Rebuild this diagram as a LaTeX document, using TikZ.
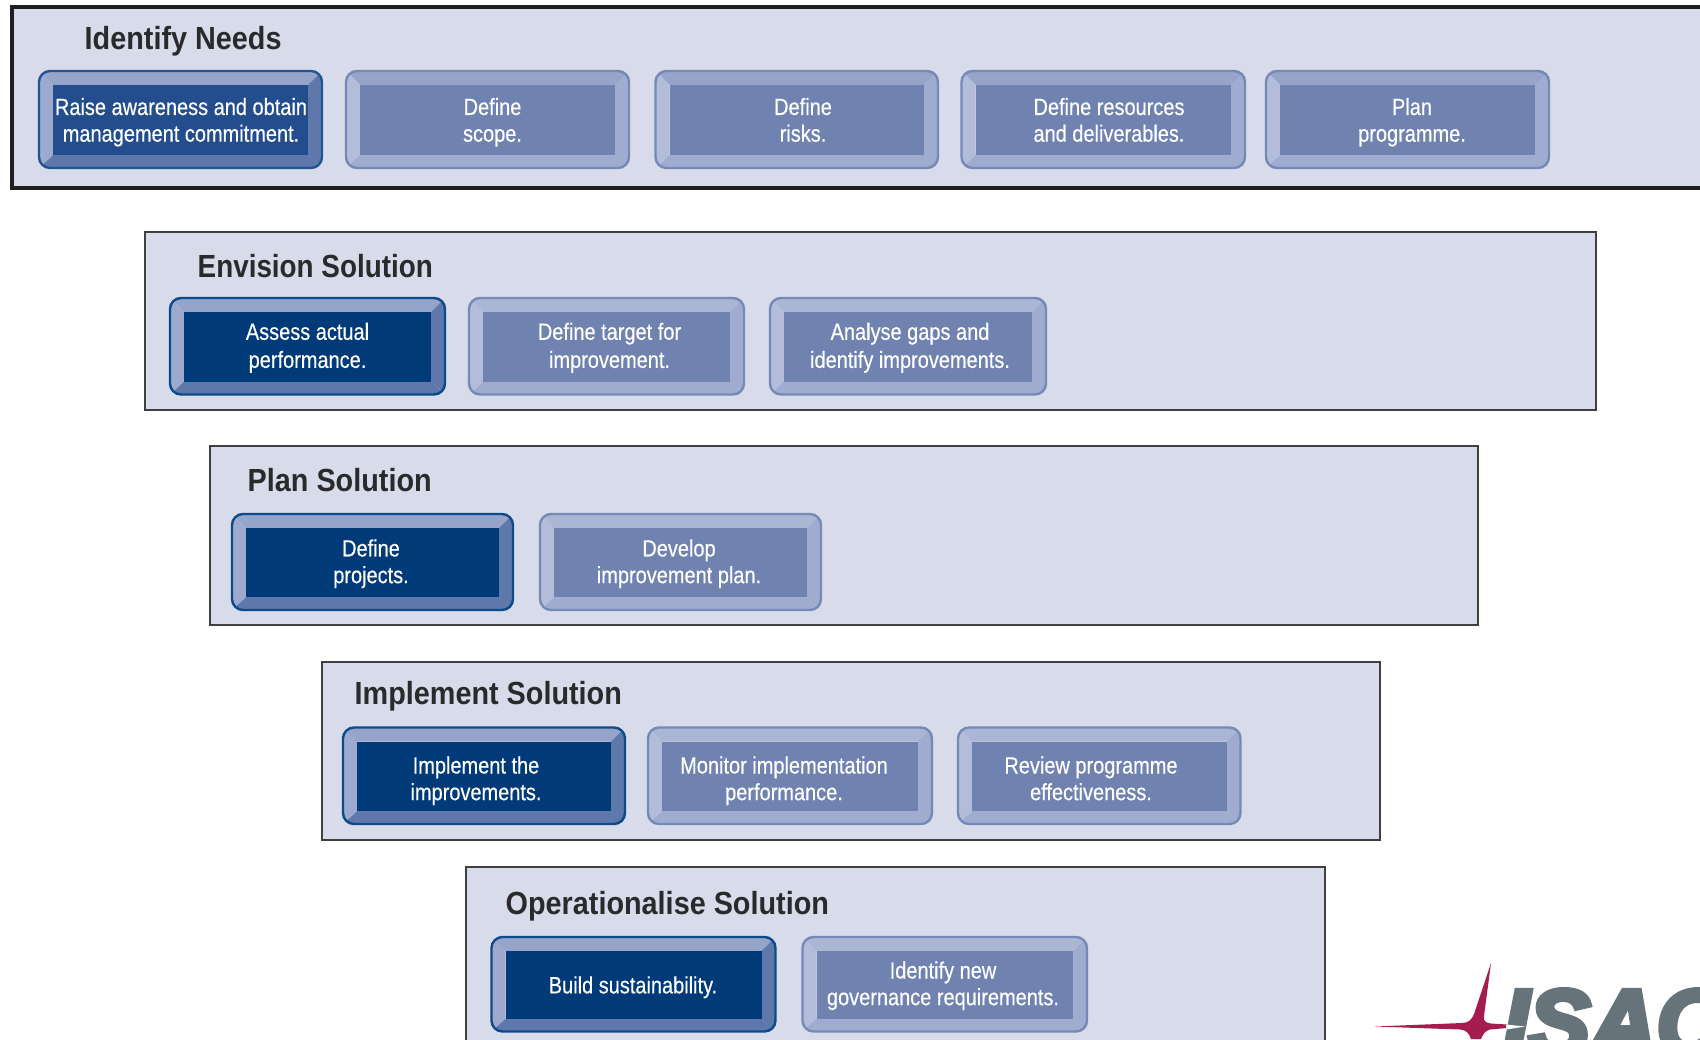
\documentclass[tikz,border=0pt]{standalone}
\usepackage{fontspec}
\setmainfont{Liberation Sans}
\newfontfamily\boxf[FakeStretch=0.85,FakeBold=0.35]{Liberation Sans}
\newfontfamily\titlef[FakeStretch=0.9]{Liberation Sans}
\newfontfamily\envf[FakeStretch=0.87]{Liberation Sans}
\newfontfamily\logof[FakeBold=6]{Liberation Sans}
\definecolor{panelfill}{HTML}{D8DCEA}
\definecolor{titlecol}{HTML}{2A2A2C}
% active boxes
\definecolor{Atop}{HTML}{96A4C9}\definecolor{Aleft}{HTML}{9DAACD}\definecolor{Aright}{HTML}{5F78AB}\definecolor{Abot}{HTML}{5F78AB}\definecolor{Aline}{HTML}{0B4A8B}\definecolor{Ainner}{HTML}{003A78}
% first active box, lighter core
\definecolor{Htop}{HTML}{96A4C9}\definecolor{Hleft}{HTML}{9DAACD}\definecolor{Hright}{HTML}{5F78AB}\definecolor{Hbot}{HTML}{5F78AB}\definecolor{Hline}{HTML}{1F5595}\definecolor{Hinner}{HTML}{234D8C}
% light boxes
\definecolor{Ltop}{HTML}{ABB5D4}\definecolor{Lleft}{HTML}{B3BCD9}\definecolor{Lright}{HTML}{A0ACCF}\definecolor{Lbot}{HTML}{A0ACCF}\definecolor{Lline}{HTML}{7589B6}\definecolor{Linner}{HTML}{7082B0}
% light boxes of the first row
\definecolor{Rtop}{HTML}{96A4C9}\definecolor{Rleft}{HTML}{B3BCD9}\definecolor{Rright}{HTML}{A0ACCF}\definecolor{Rbot}{HTML}{A0ACCF}\definecolor{Rline}{HTML}{7589B6}\definecolor{Rinner}{HTML}{7082B0}
\definecolor{logored}{HTML}{A51C4E}
\definecolor{logogrey}{HTML}{67737A}
\tikzset{
  panelbox/.style={draw=black!75,line width=2pt,fill=panelfill,inner sep=0pt,outer sep=0pt},
  toppanel/.style={panelbox,draw=black!88,line width=4pt},
  paneltitle/.style={anchor=base west,inner sep=0pt,text=titlecol,font=\titlef\bfseries\fontsize{32}{34}\selectfont},
  bevelline/.style={inner sep=0pt,outer sep=0pt,rounded corners=11pt,line width=2.4pt},
  coretext/.style={text=white,align=center,inner sep=0pt,font=\boxf\fontsize{23.5}{26.7}\selectfont},
}
\newcommand\panelrect[6]{%
  \pgfmathsetmacro\pw{#4-#2}\pgfmathsetmacro\ph{#5-#3}%
  \node (#1) [#6,minimum width=\pw pt,minimum height=\ph pt] at ({(#2+#4)/2},{(#3+#5)/2}) {};}
\newcommand\bevbox[8]{%
  \begin{scope}
    \clip[rounded corners=11pt] (#2,#3) rectangle (#4,#5);
    \fill[#6top] (#2,#3) -- (#4,#3) -- (#4-14,#3+14) -- (#2+14,#3+14) -- cycle;
    \fill[#6bot] (#2,#5) -- (#4,#5) -- (#4-14,#5-13) -- (#2+14,#5-13) -- cycle;
    \fill[#6left] (#2,#3) -- (#2+14,#3+14) -- (#2+14,#5-13) -- (#2,#5) -- cycle;
    \fill[#6right] (#4,#3) -- (#4-14,#3+14) -- (#4-14,#5-13) -- (#4,#5) -- cycle;
    \fill[#6inner] (#2+14,#3+14) rectangle (#4-14,#5-13);
  \end{scope}
  \pgfmathsetmacro\pw{#4-#2}\pgfmathsetmacro\ph{#5-#3}%
  \node (#1) [bevelline,draw=#6line,minimum width=\pw pt,minimum height=\ph pt] at ({(#2+#4)/2},{(#3+#5)/2}) {};
  \node (#1text) [coretext] at #7 {#8};}
\newcommand\twolines[2]{\strut #1\strut\\\strut #2\strut}
\newcommand\widelines[2]{\strut #1\strut\\[1.4pt]\strut #2\strut}
\begin{document}
\begin{tikzpicture}[x=1pt,y=-1pt]
\clip (0,0) rectangle (1700,1039);
\fill[white] (0,0) rectangle (1700,1039);

\panelrect{needs}{12}{7}{1720}{188}{toppanel}
\panelrect{envision}{145}{232}{1596}{410}{panelbox}
\panelrect{plan}{210}{446}{1478}{625}{panelbox}
\panelrect{implement}{322}{662}{1380}{840}{panelbox}
\panelrect{operate}{466}{867}{1325}{1060}{panelbox}

\node (t1) [paneltitle] at (84.5,49.5) {Identify Needs};
\node (t2) [paneltitle,font=\envf\bfseries\fontsize{32}{34}\selectfont] at (197.5,277) {Envision Solution};
\node (t3) [paneltitle] at (247.5,491) {Plan Solution};
\node (t4) [paneltitle] at (354.5,704.5) {Implement Solution};
\node (t5) [paneltitle] at (505.5,914) {Operationalise Solution};

\bevbox{a1}{39}{71}{322}{168}{H}{(181,123)}{\twolines{Raise awareness and obtain}{management commitment.}}
\bevbox{a2}{346}{71}{629}{168}{R}{(492.5,123)}{\twolines{Define}{scope.}}
\bevbox{a3}{655.5}{71}{938}{168}{R}{(803,123)}{\twolines{Define}{risks.}}
\bevbox{a4}{961.5}{71}{1245}{168}{R}{(1109,123)}{\twolines{Define resources}{and deliverables.}}
\bevbox{a5}{1266}{71}{1549}{168}{R}{(1412,123)}{\twolines{Plan}{programme.}}

\bevbox{b1}{170}{298}{445}{394.5}{A}{(307.5,348.5)}{\widelines{Assess actual}{performance.}}
\bevbox{b2}{469}{298}{744}{394.5}{L}{(609.5,348.5)}{\widelines{Define target for}{improvement.}}
\bevbox{b3}{770}{298}{1046}{394.5}{L}{(910,348.5)}{\widelines{Analyse gaps and}{identify improvements.}}

\bevbox{c1}{232}{514}{513}{610}{A}{(371,564.5)}{\twolines{Define}{projects.}}
\bevbox{c2}{540}{514}{821}{610}{L}{(679,564.5)}{\twolines{Develop}{improvement plan.}}

\bevbox{d1}{343}{727.5}{625}{824}{A}{(476,781.5)}{\twolines{Implement the}{improvements.}}
\bevbox{d2}{648}{727.5}{932}{824}{L}{(784,781.5)}{\twolines{Monitor implementation}{performance.}}
\bevbox{d3}{958}{727.5}{1240.5}{824}{L}{(1091,781.5)}{\twolines{Review programme}{effectiveness.}}

\bevbox{e1}{491.5}{937}{775.5}{1031.5}{A}{(633,988)}{\strut Build sustainability.\strut}
\bevbox{e2}{802.5}{937}{1087}{1031.5}{L}{(943,986.5)}{\twolines{Identify new}{governance requirements.}}

\node (isac) [anchor=base west,inner sep=0pt,text=logogrey,font=\logof\bfseries\itshape\fontsize{92}{92}\selectfont] at (1503,1054) {ISAC};
\fill[logored] (1375,1026.5) -- (1462,1023) .. controls (1469,1023) and (1472,1019) .. (1474,1014) -- (1491,963) -- (1484,1016) .. controls (1483,1021) and (1486,1023) .. (1491,1023.5) -- (1507,1024.5) -- (1507,1028) -- (1490,1029.5) .. controls (1485,1031) and (1483,1034) .. (1481,1039) -- (1471,1039) .. controls (1469,1033) and (1466,1030) .. (1460,1029.5) -- cycle;
\fill[white] (1506,1024.5) -- (1525,1026.5) -- (1506,1029.5) -- cycle;
\end{tikzpicture}
\end{document}
